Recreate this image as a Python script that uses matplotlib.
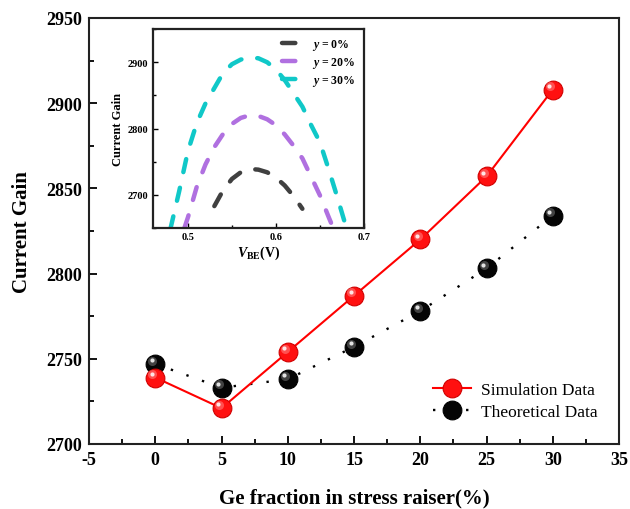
import matplotlib
matplotlib.use('Agg')
import matplotlib.pyplot as plt
import matplotlib.transforms as mtransforms
from matplotlib.ticker import MultipleLocator

plt.rcParams['font.family'] = ['Liberation Serif', 'DejaVu Serif']
plt.rcParams['axes.unicode_minus'] = False
plt.rcParams['mathtext.fontset'] = 'custom'
plt.rcParams['mathtext.rm'] = 'Liberation Serif:bold'
plt.rcParams['mathtext.it'] = 'Liberation Serif:bold:italic'
plt.rcParams['mathtext.bf'] = 'Liberation Serif:bold'

# main chart data
ge = [0, 5, 10, 15, 20, 25, 30]
sim = [2739, 2721, 2754, 2787, 2820, 2857, 2908]
theo = [2747, 2733, 2738, 2757, 2778, 2803, 2834]

# inset curves (current gain vs V_BE)
v0 = [0.53, 0.54, 0.55, 0.56, 0.57, 0.58, 0.59, 0.60, 0.61, 0.62, 0.63]
g0 = [2683, 2707, 2724, 2734, 2739, 2738, 2734, 2726, 2714, 2698, 2679]
v20 = [0.496, 0.50, 0.51, 0.52, 0.53, 0.54, 0.55, 0.56, 0.57, 0.58, 0.59,
       0.60, 0.61, 0.62, 0.63, 0.64, 0.65, 0.66, 0.665]
g20 = [2650, 2666, 2712, 2746, 2772, 2792, 2807, 2816, 2820, 2819, 2814,
       2805, 2791, 2774, 2755, 2727, 2699, 2666, 2650]
v30 = [0.48, 0.49, 0.50, 0.51, 0.52, 0.53, 0.54, 0.55, 0.56, 0.57, 0.58,
       0.59, 0.60, 0.61, 0.62, 0.63, 0.64, 0.65, 0.66, 0.67, 0.68]
g30 = [2648, 2705, 2766, 2808, 2838, 2861, 2884, 2897, 2904, 2907, 2906,
       2900, 2889, 2873, 2853, 2833, 2805, 2779, 2738, 2695, 2650]

fig = plt.figure(figsize=(6.3, 5.1), dpi=100)
ax = fig.add_axes([0.1413, 0.1275, 0.8413, 0.8353])


def glossy(ax, x, y, shine):
    # little highlight on top of each sphere
    tr = mtransforms.offset_copy(ax.transData, fig=fig, x=-2.0, y=2.4, units='points')
    ax.plot(x, y, 'o', ms=6.5, mfc=shine, mec='none', alpha=0.5, transform=tr, zorder=5)
    tr2 = mtransforms.offset_copy(ax.transData, fig=fig, x=-2.4, y=2.8, units='points')
    ax.plot(x, y, 'o', ms=3.0, mfc='white', mec='none', alpha=0.85, transform=tr2, zorder=6)


ax.plot(ge, sim, '-', color='#ff0000', lw=1.5, marker='o', ms=13.5,
        mfc='#ff1010', mec='#d00000', mew=0.8, label='Simulation Data', zorder=4)
ax.plot(ge, theo, linestyle=(0, (1, 6)), color='black', lw=1.7, marker='o', ms=13.5,
        mfc='#050505', mec='black', mew=0.8, label='Theoretical Data', zorder=3)
glossy(ax, ge, sim, '#ff9090')
glossy(ax, ge, theo, '#808080')

ax.set_xlim(-5, 35)
ax.set_ylim(2700, 2950)
ax.xaxis.set_major_locator(MultipleLocator(5))
ax.xaxis.set_minor_locator(MultipleLocator(2.5))
ax.yaxis.set_major_locator(MultipleLocator(50))
ax.yaxis.set_minor_locator(MultipleLocator(25))
ax.tick_params(which='both', direction='in', top=False, right=False, width=1.3)
ax.tick_params(which='major', length=6, labelsize=13, pad=5)
ax.tick_params(which='minor', length=3.5)
for lab in ax.get_xticklabels() + ax.get_yticklabels():
    lab.set_fontweight('bold')
for s in ax.spines.values():
    s.set_linewidth(1.5)
    s.set_color('#222222')
ax.set_xlabel('Ge fraction in stress raiser(%)', fontsize=15, fontweight='bold', labelpad=14)
ax.set_ylabel('Current Gain', fontsize=15, fontweight='bold', labelpad=10)
ax.legend(loc='lower right', bbox_to_anchor=(0.99, 0.02), frameon=False,
          fontsize=12.5, handlelength=2.2, handletextpad=0.6, labelspacing=0.35)

# inset
ins = fig.add_axes([0.2424, 0.551, 0.3354, 0.390])
dash = (0, (3.0, 3.6))
ins.plot(v0, g0, linestyle=dash, color='#404040', lw=3.2, dash_capstyle='round', label='$y$ = 0%')
ins.plot(v20, g20, linestyle=dash, color='#b070e0', lw=3.2, dash_capstyle='round', label='$y$ = 20%')
ins.plot(v30, g30, linestyle=dash, color='#10c8c8', lw=3.2, dash_capstyle='round', label='$y$ = 30%')
ins.set_xlim(0.46, 0.70)
ins.set_ylim(2650, 2950)
ins.xaxis.set_major_locator(MultipleLocator(0.1))
ins.xaxis.set_minor_locator(MultipleLocator(0.05))
ins.yaxis.set_major_locator(MultipleLocator(100))
ins.yaxis.set_minor_locator(MultipleLocator(50))
ins.tick_params(which='both', direction='in', top=False, right=False, width=1.0)
ins.tick_params(which='major', length=3.5, labelsize=7.5, pad=3)
ins.tick_params(which='minor', length=2)
for lab in ins.get_xticklabels() + ins.get_yticklabels():
    lab.set_fontweight('bold')
for s in ins.spines.values():
    s.set_linewidth(1.6)
    s.set_color('#222222')
ins.set_xlabel('$V_{\\mathrm{BE}}$(V)', fontsize=10, fontweight='bold', labelpad=2)
ins.set_ylabel('Current Gain', fontsize=9, fontweight='bold', labelpad=3)
leg = ins.legend(loc='upper right', frameon=False, prop={'size': 8.5, 'weight': 'bold'},
                 handlelength=1.6, handletextpad=1.0, labelspacing=0.25, borderaxespad=0.3)

fig.savefig('out.png', dpi=100)
